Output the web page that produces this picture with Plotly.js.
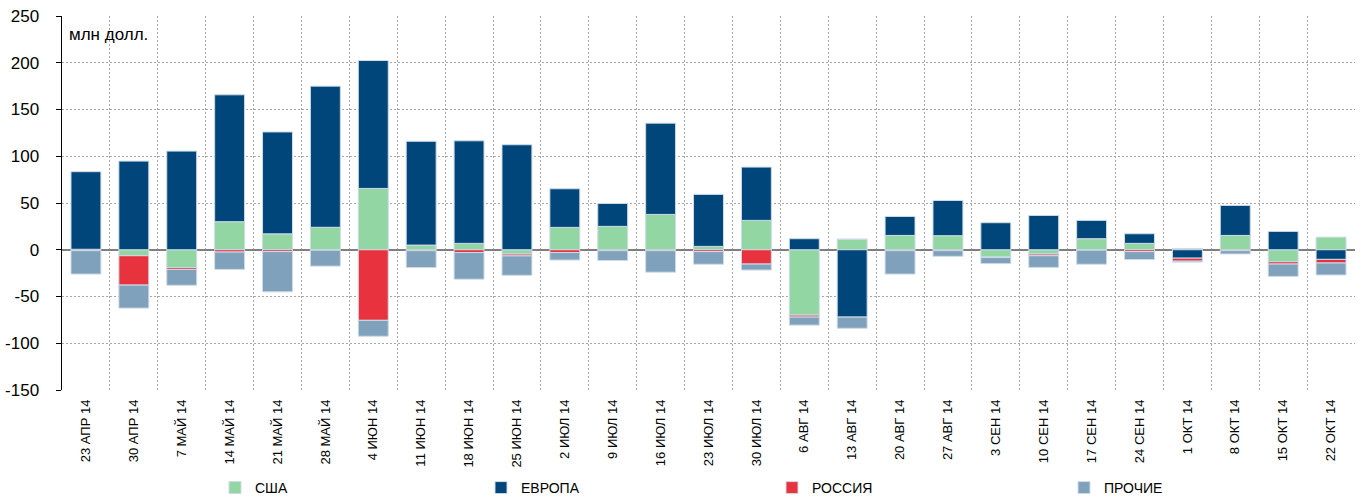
<!DOCTYPE html>
<html>
<head>
<meta charset="utf-8">
<script src="https://cdn.plot.ly/plotly-3.0.1.min.js"></script>
<style>html,body{margin:0;padding:0;background:#fff;}#chart{width:1363px;height:498px;}</style>
</head>
<body>
<div id="chart"></div>
<script>
const categories = ['23 АПР 14','30 АПР 14','7 МАЙ 14','14 МАЙ 14','21 МАЙ 14','28 МАЙ 14','4 ИЮН 14','11 ИЮН 14','18 ИЮН 14','25 ИЮН 14','2 ИЮЛ 14','9 ИЮЛ 14','16 ИЮЛ 14','23 ИЮЛ 14','30 ИЮЛ 14','6 АВГ 14','13 АВГ 14','20 АВГ 14','27 АВГ 14','3 СЕН 14','10 СЕН 14','17 СЕН 14','24 СЕН 14','1 ОКТ 14','8 ОКТ 14','15 ОКТ 14','22 ОКТ 14'];

const usa    = [0.5, -6.4, -19, 30, 17, 24, 65.6, 5, 6.8, -4.6, 23.9, 25, 37.8, 3.6, 31.4, -69.9, 11, 15.3, 15, -7.8, -4.6, 11.8, 6.8, 1.4, 15.3, -12.8, 13.5];
const europe = [83, 94.8, 105.5, 135.7, 109, 151, 136.8, 111, 109.7, 112.3, 41.3, 24.5, 97.6, 55.6, 57, 11.8, -72, 20.3, 37.7, 28.9, 36.7, 19.6, 10.3, -9, 32.1, 19.6, -10.3];
const russia = [-1, -31.4, -2, -2.5, -2, -0.5, -75.5, -1, -3, -2, -3, -1, -1, -2, -15.3, -2.1, 0.5, -1, -1, -0.6, -1.8, -0.5, -2, -3.2, -1, -2.5, -3.9];
const others = [-25, -24.6, -17, -18.5, -43, -17, -17, -18, -28.5, -20.7, -8, -10.5, -23, -13.5, -6.4, -8.6, -12, -25, -6, -6.4, -12.5, -15, -8.5, -1, -3.5, -13.2, -12.8];

const seriesNames = ['США', 'ЕВРОПА', 'РОССИЯ', 'ПРОЧИЕ'];
const yTicks = [-150, -100, -50, 0, 50, 100, 150, 200, 250];
const unitLabel = 'млн долл.';

const colors = ['#92d6a4', '#00467a', '#e8333f', '#7fa1bb'];
const seriesValues = [usa, europe, russia, others];
const legendIds = ['legend', 'legend2', 'legend3', 'legend4'];

const traces = seriesValues.map((vals, i) => ({
  type: 'bar',
  name: seriesNames[i],
  x: categories,
  y: vals,
  legend: legendIds[i],
  marker: {color: colors[i], line: {color: '#cfdbe7', width: 1}},
  hoverinfo: 'x+y+name'
}));

// plot area: x 62..1355, y 16..390
const L = 62, R = 1363 - 1355, T = 16, B = 498 - 390;
const pw = 1363 - L - R, ph = 498 - T - B;
const px2x = p => (p - L) / pw;
const py2y = p => (498 - B - p) / ph;
const markerCenters = [233, 499, 790, 1082];
const legendFont = {family: '"Liberation Sans Narrow", "Liberation Sans", Arial, sans-serif', size: 14, color: '#000'};

const layout = {
  width: 1363, height: 498,
  margin: {l: L, r: R, t: T, b: B, autoexpand: false},
  paper_bgcolor: '#fff', plot_bgcolor: '#fff',
  barmode: 'relative',
  bargap: 0.375,
  font: {family: '"Liberation Sans", Arial, sans-serif', color: '#000'},
  xaxis: {
    type: 'category',
    categoryorder: 'array', categoryarray: categories,
    range: [-0.5, categories.length - 0.5],
    tickson: 'boundaries',
    showgrid: true, gridcolor: '#a6a6a6', gridwidth: 1, griddash: '2px,2px',
    ticks: '', tickangle: -90,
    ticklabelstandoff: 6,
    automargin: false,
    tickfont: {family: '"Liberation Sans", Arial, sans-serif', size: 13, color: '#000'},
    showline: false, zeroline: false,
    fixedrange: true
  },
  xaxis2: {
    type: 'category', overlaying: 'x', anchor: 'free',
    position: py2y(250),
    categoryorder: 'array', categoryarray: categories,
    range: [-0.5, categories.length - 0.5],
    tickson: 'boundaries', ticks: 'outside', ticklen: 4, tickwidth: 1.5, tickcolor: '#000',
    showticklabels: false, showgrid: false, showline: false, zeroline: false
  },
  yaxis: {
    range: [-150, 250],
    tickvals: yTicks,
    ticktext: yTicks.map(String),
    showgrid: true, gridcolor: '#a6a6a6', gridwidth: 1, griddash: '2px,2px',
    zeroline: true, zerolinecolor: '#7f7f7f', zerolinewidth: 2,
    showline: true, linecolor: '#000', linewidth: 1.5,
    ticks: 'outside', ticklen: 5, tickcolor: '#000', tickwidth: 1,
    ticklabelstandoff: 13,
    automargin: false,
    tickfont: {family: '"Liberation Sans", Arial, sans-serif', size: 17, color: '#000'},
    fixedrange: true
  },
  annotations: [{
    text: unitLabel, xref: 'paper', yref: 'paper',
    x: px2x(67), y: py2y(35), xanchor: 'left', yanchor: 'middle',
    showarrow: false,
    font: {family: '"Liberation Sans", Arial, sans-serif', size: 17, color: '#000'}
  }],
  showlegend: true
};

legendIds.forEach((id, i) => {
  layout[id] = {
    x: px2x(markerCenters[i] - 20 + 2), y: py2y(488),
    xanchor: 'left', yanchor: 'middle',
    orientation: 'h', bgcolor: 'rgba(0,0,0,0)', borderwidth: 0,
    font: legendFont, itemwidth: 30
  };
});

Plotly.newPlot('chart', traces, layout, {displayModeBar: false, staticPlot: true});
</script>
</body>
</html>
